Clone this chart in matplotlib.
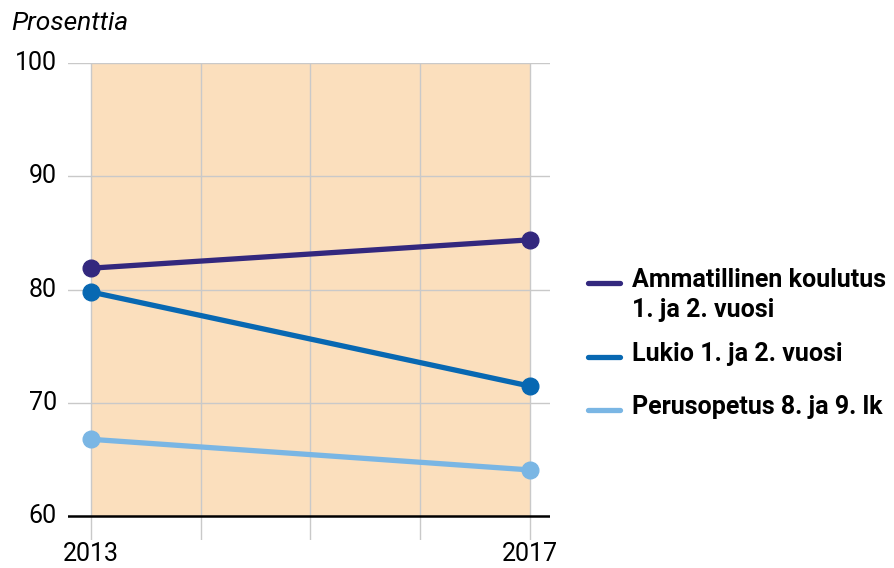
import matplotlib
matplotlib.use("Agg")
import matplotlib.pyplot as plt
from matplotlib.lines import Line2D

plt.rcParams['font.family'] = ['Roboto', 'DejaVu Sans']

# ============================================================
# DATA
# ============================================================
years = [2013, 2017]
grid_years = [2013, 2014, 2015, 2016, 2017]
y_ticks = [60, 70, 80, 90, 100]

series_names = [
    "Ammatillinen koulutus\n1. ja 2. vuosi",
    "Lukio 1. ja 2. vuosi",
    "Perusopetus 8. ja 9. lk",
]
ammatillinen = [81.9, 84.4]
lukio = [79.8, 71.5]
perusopetus = [66.8, 64.1]

colors = ["#33287e", "#0868b2", "#7ab6e4"]

# ============================================================
# FIGURE
# ============================================================
fig = plt.figure(figsize=(8.95, 5.68), dpi=100)
ax = fig.add_axes([0.076, 0.049, 0.539, 0.840])

ax.set_xlim(2012.79, 2017.19)
ax.set_ylim(57.9, 100)

# background band
ax.fill_between([2013, 2017], 60, 100, color="#fbdfbd", zorder=0, linewidth=0)

# grid
for yv in y_ticks[1:]:
    ax.axhline(yv, color="#c9c9c9", linewidth=1.0, zorder=1)
for xv in grid_years:
    ax.axvline(xv, color="#c9c9c9", linewidth=1.0, zorder=1)
ax.axhline(60, color="black", linewidth=1.8, zorder=2)

# series
for vals, c in zip([ammatillinen, lukio, perusopetus], colors):
    ax.plot(years, vals, color=c, linewidth=3.8, marker="o",
            markersize=12, solid_capstyle="round", zorder=3)

for s in ax.spines.values():
    s.set_visible(False)

ax.set_yticks(y_ticks)
ax.set_yticklabels([str(v) for v in y_ticks], fontsize=18)
ax.set_xticks(years)
ax.set_xticklabels([str(v) for v in years], fontsize=18)
ax.tick_params(axis="x", length=0, pad=1)
ax.tick_params(axis="y", length=0, pad=8)
for lab in ax.get_yticklabels():
    lab.set_verticalalignment("center")

fig.text(0.013, 0.96, "Prosenttia", fontsize=19, style="italic",
         ha="left", va="center")

# ============================================================
# LEGEND (manual)
# ============================================================
leg_y = [1 - 283 / 568, 1 - 357 / 568, 1 - 410 / 568]
for name, c, yy in zip(series_names, colors, leg_y):
    fig.add_artist(Line2D([588 / 895, 620 / 895], [yy, yy], color=c,
                          linewidth=3.8, solid_capstyle="round",
                          transform=fig.transFigure))
    fig.text(632 / 895, yy + 0.026, name, fontsize=18, fontweight="bold",
             ha="left", va="top", linespacing=1.3)

fig.savefig("out.png", dpi=100)
